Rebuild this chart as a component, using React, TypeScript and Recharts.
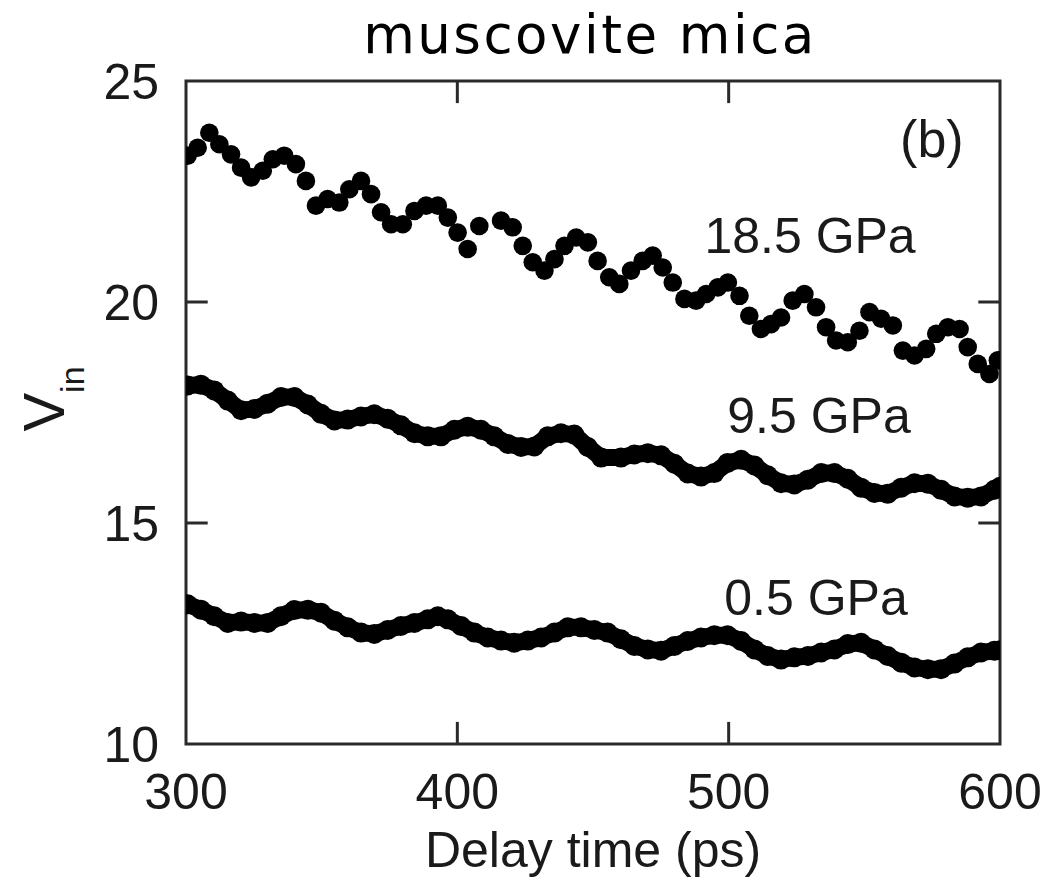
import React from 'react';
import { ScatterChart, Scatter, XAxis, YAxis, ReferenceArea, ReferenceLine, ReferenceDot } from 'recharts';

// 18.5 GPa series (discrete dots)
const t185 = [
  300.6, 304.3, 308.6, 312.3, 316.6, 320.3, 324.0, 328.3, 332.0, 336.2,
  340.5, 344.2, 347.9, 352.2, 356.5, 360.2, 364.5, 368.2, 371.9, 375.6,
  379.9, 384.2, 388.5, 392.8, 396.5, 400.1, 403.8, 408.1, 416.1, 420.4,
  424.1, 427.8, 432.1, 435.8, 439.5, 443.8, 448.1, 451.7, 456.0, 459.7,
  464.0, 468.3, 472.0, 475.7, 479.4, 483.7, 488.0, 491.7, 496.0, 499.7,
  504.0, 507.6, 511.9, 515.6, 519.3, 523.6, 527.9, 532.2, 535.9, 539.6,
  543.9, 548.2, 551.9, 556.2, 560.5, 564.2, 568.5, 572.8, 576.5, 580.8,
  585.1, 588.1, 591.8, 596.1, 599.2,
];
const v185 = [
  23.31, 23.49, 23.83, 23.57, 23.34, 23.04, 22.82, 22.97, 23.23, 23.31,
  23.12, 22.74, 22.18, 22.33, 22.25, 22.55, 22.74, 22.44, 22.03, 21.76,
  21.76, 22.06, 22.18, 22.18, 21.91, 21.57, 21.2, 21.72, 21.84, 21.69,
  21.27, 20.9, 20.71, 20.97, 21.27, 21.46, 21.35, 20.93, 20.56, 20.41,
  20.71, 20.93, 21.05, 20.78, 20.44, 20.07, 20.03, 20.18, 20.33, 20.44,
  20.14, 19.69, 19.39, 19.5, 19.65, 20.03, 20.18, 19.88, 19.43, 19.13,
  19.09, 19.35, 19.77, 19.62, 19.47, 18.9, 18.79, 18.94, 19.28, 19.43,
  19.39, 18.98, 18.6, 18.37, 18.68,
];

// 9.5 GPa series
const t95 = [
  300.6, 305.5, 310.4, 315.4, 320.3, 325.2, 330.1, 335.0, 340.0, 344.9,
  349.8, 354.7, 359.6, 364.5, 369.4, 374.3, 379.2, 384.2, 389.1, 394.0,
  398.9, 403.8, 408.7, 413.6, 418.6, 423.5, 428.4, 433.3, 438.2, 443.1,
  448.1, 453.0, 460.3, 465.2, 470.2, 475.1, 480.0, 484.9, 489.8, 494.7,
  499.6, 504.6, 509.5, 514.4, 519.3, 524.2, 529.2, 534.1, 539.0, 543.9,
  548.8, 553.7, 558.6, 563.6, 568.5, 573.4, 578.3, 583.2, 588.1, 593.0,
  597.9, 600.0,
];
const v95 = [
  18.11, 18.13, 18.0, 17.77, 17.55, 17.58, 17.7, 17.85, 17.85, 17.68,
  17.47, 17.32, 17.34, 17.41, 17.46, 17.36, 17.21, 17.03, 16.96, 16.96,
  17.11, 17.18, 17.11, 16.96, 16.79, 16.72, 16.73, 16.96, 17.03, 17.0,
  16.72, 16.48, 16.48, 16.55, 16.58, 16.53, 16.34, 16.12, 16.05, 16.13,
  16.36, 16.43, 16.3, 16.08, 15.9, 15.87, 15.98, 16.13, 16.13, 16.0,
  15.8, 15.68, 15.66, 15.8, 15.9, 15.89, 15.75, 15.6, 15.57, 15.6,
  15.75, 15.82,
];

// 0.5 GPa series
const t05 = [
  300.6, 305.5, 310.4, 315.4, 320.3, 325.2, 330.1, 335.0, 339.9, 344.9,
  349.8, 354.7, 359.6, 364.5, 369.4, 374.3, 379.2, 384.2, 389.1, 392.8,
  396.5, 401.4, 406.3, 411.2, 416.1, 421.0, 426.0, 430.9, 435.8, 440.7,
  445.6, 450.5, 455.4, 460.3, 465.2, 470.2, 475.1, 480.0, 484.9, 489.8,
  494.7, 499.6, 504.6, 509.5, 514.4, 519.3, 524.2, 529.2, 534.1, 539.0,
  543.9, 548.8, 553.7, 558.6, 563.6, 568.5, 573.4, 578.3, 583.2, 588.1,
  593.0, 597.9, 600.0,
];
const v05 = [
  13.16, 13.04, 12.89, 12.74, 12.77, 12.74, 12.74, 12.89, 13.03, 13.04,
  12.97, 12.79, 12.64, 12.52, 12.49, 12.58, 12.67, 12.74, 12.82, 12.89,
  12.82, 12.67, 12.52, 12.41, 12.34, 12.29, 12.34, 12.41, 12.52, 12.64,
  12.64, 12.58, 12.52, 12.37, 12.22, 12.14, 12.11, 12.22, 12.33, 12.41,
  12.46, 12.46, 12.33, 12.14, 11.99, 11.91, 11.96, 11.99, 12.07, 12.14,
  12.26, 12.29, 12.14, 11.99, 11.84, 11.73, 11.69, 11.69, 11.82, 11.96,
  12.07, 12.11, 12.12,
];

const xTicks = [300, 400, 500, 600];
const yTicks = [10, 15, 20, 25];
const seriesLabels = ['18.5 GPa', '9.5 GPa', '0.5 GPa'];
const labelX = [530.0, 533.3, 532.2];
const labelY = [21.11, 17.04, 12.92];
const panelLabel = '(b)';
const panelX = 574.9;
const panelY = 23.28;
const title = 'muscovite mica';
const xLabel = 'Delay time (ps)';

const toPts = (t: number[], v: number[]) => t.map((x, i) => ({ x, y: v[i] }));
const d185 = toPts(t185, v185);
const d95 = toPts(t95, v95);
const d05 = toPts(t05, v05);

const FONT = '"Liberation Sans", Arial, Helvetica, sans-serif';
const AX = '#2a2a2a';

const dot = (r: number) => (p: any) => <circle cx={p.cx} cy={p.cy} r={r} fill="#000" />;

const textShape = (label: string, size: number) => (p: any) => (
  <text x={p.cx} y={p.cy} textAnchor="middle" fontFamily={FONT} fontSize={size} fill="#1a1a1a">
    {label}
  </text>
);

export default function App() {
  return (
    <div style={{ position: 'absolute', left: 0, top: 0, width: 1063, height: 877, background: '#fff' }}>
      <ScatterChart width={1063} height={877} margin={{ top: 81, right: 63, bottom: 0, left: 0 }}>
        <XAxis
          type="number"
          dataKey="x"
          domain={[300, 600]}
          ticks={xTicks}
          allowDataOverflow
          axisLine={false}
          tickLine={false}
          tickSize={0}
          tickMargin={29}
          height={133}
          tick={{ fontSize: 50, fontFamily: FONT, fill: '#1a1a1a' }}
        />
        <YAxis
          type="number"
          dataKey="y"
          domain={[10, 25]}
          ticks={yTicks}
          allowDataOverflow
          axisLine={false}
          tickLine={false}
          tickSize={0}
          tickMargin={27}
          width={186}
          tick={{ fontSize: 50, fontFamily: FONT, fill: '#1a1a1a' }}
        />
        <Scatter data={d05} isAnimationActive={false} shape={dot(10)} line={{ stroke: '#000', strokeWidth: 17 }} lineType="joint" />
        <Scatter data={d95} isAnimationActive={false} shape={dot(10)} line={{ stroke: '#000', strokeWidth: 17 }} lineType="joint" />
        <Scatter data={d185} isAnimationActive={false} shape={dot(9.3)} />
        <ReferenceArea x1={300} x2={600} y1={10} y2={25} fill="none" stroke={AX} strokeWidth={3} ifOverflow="visible" />
        <ReferenceLine segment={[{ x: 400, y: 10 }, { x: 400, y: 10.5 }]} stroke={AX} strokeWidth={3} />
        <ReferenceLine segment={[{ x: 500, y: 10 }, { x: 500, y: 10.5 }]} stroke={AX} strokeWidth={3} />
        <ReferenceLine segment={[{ x: 400, y: 25 }, { x: 400, y: 24.5 }]} stroke={AX} strokeWidth={3} />
        <ReferenceLine segment={[{ x: 500, y: 25 }, { x: 500, y: 24.5 }]} stroke={AX} strokeWidth={3} />
        <ReferenceLine segment={[{ x: 300, y: 15 }, { x: 308, y: 15 }]} stroke={AX} strokeWidth={3} />
        <ReferenceLine segment={[{ x: 300, y: 20 }, { x: 308, y: 20 }]} stroke={AX} strokeWidth={3} />
        <ReferenceLine segment={[{ x: 600, y: 15 }, { x: 592, y: 15 }]} stroke={AX} strokeWidth={3} />
        <ReferenceLine segment={[{ x: 600, y: 20 }, { x: 592, y: 20 }]} stroke={AX} strokeWidth={3} />
        {seriesLabels.map((s, i) => (
          <ReferenceDot key={s} x={labelX[i]} y={labelY[i]} r={0} shape={textShape(s, 50)} />
        ))}
        <ReferenceDot x={panelX} y={panelY} r={0} shape={textShape(panelLabel, 52)} />
      </ScatterChart>
      <svg width={1063} height={877} style={{ position: 'absolute', left: 0, top: 0, pointerEvents: 'none' }}>
        <text x={590} y={53} textAnchor="middle" fontFamily='"DejaVu Sans", sans-serif' fontSize={53} letterSpacing={2.5} fill="#000">
          {title}
        </text>
        <text x={593} y={867} textAnchor="middle" fontFamily={FONT} fontSize={50} fill="#1a1a1a">
          {xLabel}
        </text>
        <text transform="translate(64,399) rotate(-90)" textAnchor="middle" fontFamily={FONT} fill="#1a1a1a">
          <tspan fontSize={58}>V</tspan>
          <tspan fontSize={34} dy={20}>in</tspan>
        </text>
      </svg>
    </div>
  );
}
